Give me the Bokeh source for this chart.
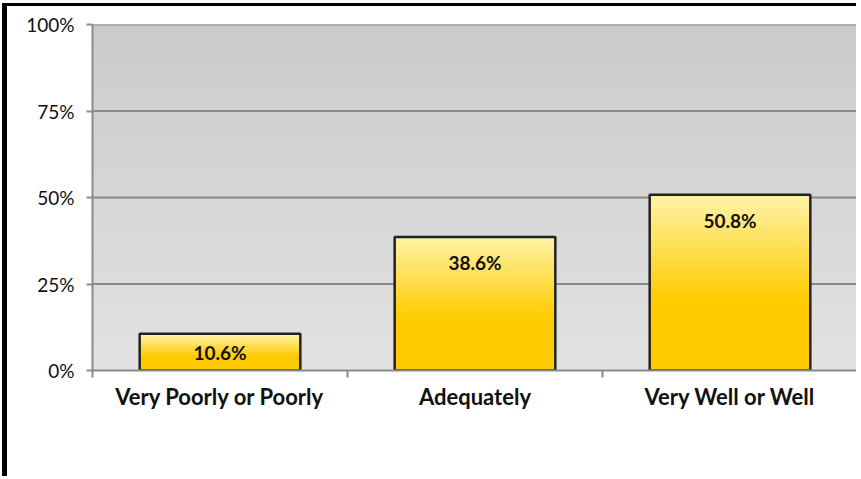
import numpy as np
from bokeh.plotting import figure
from bokeh.models import Range1d, FixedTicker, PrintfTickFormatter, LinearAxis
from bokeh.core.properties import value
from bokeh.embed import file_html
from bokeh.resources import INLINE

categories = ["Very Poorly or Poorly", "Adequately", "Very Well or Well"]
shares = [10.6, 38.6, 50.8]
y_ticks = [0, 25, 50, 75, 100]

FONT = "Lato"
BAR_W = 0.63

xs = [i + 0.5 for i in range(len(categories))]

p = figure(width=854, height=473, output_backend="svg", toolbar_location=None,
           x_range=Range1d(0, len(categories)), y_range=Range1d(0, 100),
           min_border_left=85, min_border_right=4, min_border_top=18, min_border_bottom=109,
           x_axis_type=None, y_axis_type=None)
p.margin = (3, 0, 0, 2)
p.styles = {"border-left": "5px solid black", "border-top": "3px solid black"}
p.outline_line_color = None
p.background_fill_color = "#dedede"
p.border_fill_color = "white"

def mix(c1, c2, t):
    a = np.array([int(c1[i:i + 2], 16) for i in (1, 3, 5)], float)
    b = np.array([int(c2[i:i + 2], 16) for i in (1, 3, 5)], float)
    c = a + (b - a) * t
    return "#%02x%02x%02x" % tuple(int(round(v)) for v in c)

# plot-area vertical gradient
nb = 60
edges = np.linspace(0, 100, nb + 1)
bg_cols = [mix("#e2e2e2", "#cbcbcb", (i + 0.5) / nb) for i in range(nb)]
p.quad(left=[0] * nb, right=[len(categories)] * nb, bottom=edges[:-1], top=edges[1:],
       fill_color=bg_cols, line_color=bg_cols, line_width=1)

# grid lines
for yt in y_ticks[1:]:
    p.line(x=[0, len(categories)], y=[yt, yt], line_color="#8a8a8a", line_width=2)

# bars with gradient
ns = 50
L, R, B, T, C = [], [], [], [], []
for x, v in zip(xs, shares):
    e = np.linspace(0, v, ns + 1)
    for i in range(ns):
        t = (i + 0.5) / ns
        if t < 0.4:
            col = "#ffcb00"
        else:
            col = mix("#ffcb00", "#fff3a8", (t - 0.4) / 0.6)
        L.append(x - BAR_W / 2); R.append(x + BAR_W / 2)
        B.append(e[i]); T.append(e[i + 1]); C.append(col)
p.quad(left=L, right=R, bottom=B, top=T, fill_color=C, line_color=C, line_width=1)
p.vbar(x=xs, top=shares, width=BAR_W, fill_alpha=0, line_color="#222222", line_width=2.5)

# labels
label_y = [max(v - 7.5, v / 2) for v in shares]
p.text(x=xs, y=label_y, text=["%.1f%%" % v for v in shares],
       text_font=value(FONT), text_font_style="bold", text_font_size="19px",
       text_align="center", text_baseline="middle", text_color="#111111")

# axes
xa = LinearAxis(ticker=FixedTicker(ticks=xs, minor_ticks=list(range(len(categories) + 1))),
                major_label_overrides={x: c for x, c in zip(xs, categories)})
xa.major_tick_out = 0
xa.major_tick_in = 0
xa.minor_tick_out = 7
xa.minor_tick_in = 0
xa.minor_tick_line_color = "#8a8a8a"
xa.minor_tick_line_width = 2
xa.axis_line_color = "#8a8a8a"
xa.axis_line_width = 2
xa.major_label_text_font = FONT
xa.major_label_text_font_style = "bold"
xa.major_label_text_font_size = "22px"
xa.major_label_text_color = "#111111"
xa.major_label_standoff = 5
p.add_layout(xa, "below")

ya = LinearAxis(ticker=FixedTicker(ticks=y_ticks, minor_ticks=[]),
                formatter=PrintfTickFormatter(format="%d%%"))
ya.major_tick_out = 6
ya.major_tick_in = 0
ya.major_tick_line_color = "#8a8a8a"
ya.major_tick_line_width = 2
ya.axis_line_color = "#8a8a8a"
ya.axis_line_width = 2
ya.major_label_text_font = FONT
ya.major_label_text_font_size = "19px"
ya.major_label_text_color = "#111111"
ya.major_label_standoff = 12
p.add_layout(ya, "left")

open("out.html", "w").write(file_html(p, INLINE))
